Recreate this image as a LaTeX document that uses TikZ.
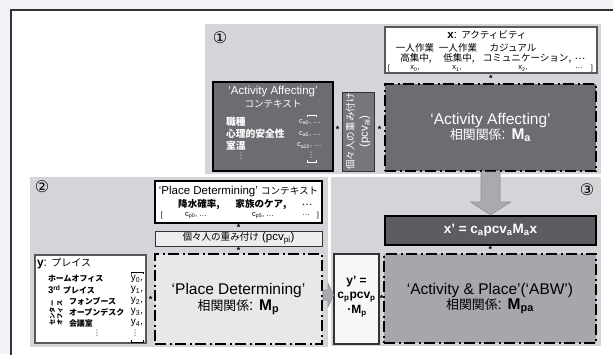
\documentclass[tikz,border=0pt]{standalone}
\usepackage{fontspec}
\setmainfont{Liberation Sans}
\newfontfamily\jpf{Noto Sans CJK JP}[Scale=0.83]
\newfontfamily\dvf{DejaVu Sans}
\usetikzlibrary{calc}
\newcommand\jt[1]{{\jpf #1}}
\newcommand\sbs[1]{\textsubscript{#1}}
\newcommand\vdt{{\dvf ⋮}}
\definecolor{outerbg}{HTML}{F2F3F7}
\definecolor{framec}{HTML}{333333}
\definecolor{panelc}{HTML}{D4D5D8}
\definecolor{darkc}{HTML}{6C6D72}
\definecolor{vboxc}{HTML}{76777C}
\definecolor{xpc}{HTML}{5C5D62}
\definecolor{abwc}{HTML}{A6A7AA}
\definecolor{pdc}{HTML}{E8E8E9}
\definecolor{pcvc}{HTML}{EDEDEE}
\definecolor{ypc}{HTML}{F7F7F7}
\definecolor{boxgray}{HTML}{58595C}
\definecolor{arrowc}{HTML}{A9AAAD}
\definecolor{arrowd}{HTML}{8F9094}
\begin{document}
\begin{tikzpicture}[x=1pt,y=-1pt,
  panel/.style={fill=panelc, inner sep=0pt, outer sep=0pt},
  bx/.style={inner sep=0pt, outer sep=0pt},
  dd/.style={draw=black, line width=2.2pt, dash pattern=on 11pt off 3.5pt on 2pt off 3.5pt},
  t/.style={inner sep=0pt, outer sep=0pt},
  big/.style={font=\fontsize{15.5}{15.5}\selectfont, align=center},
  mid/.style={font=\fontsize{11.5}{12}\selectfont},
  midb/.style={font=\fontsize{11.5}{12}\selectfont\bfseries},
  lst/.style={font=\fontsize{9.6}{10}\selectfont\bfseries},
  sm/.style={font=\fontsize{7.5}{8}\selectfont},
  wt/.style={text=white},
  starl/.style={font=\fontsize{9}{9}\selectfont\bfseries, inner sep=0pt},
  num/.style={font=\dvf\fontsize{16}{16}\selectfont, inner sep=0pt},
  barr/.style={fill=arrowc, draw=arrowd, line width=0.6pt}
]
\useasboundingbox (0,0) rectangle (613,354);
\clip (0,0) rectangle (613,354);
\fill[outerbg] (0,0) rectangle (613,354);
\draw[fill=white, draw=framec, line width=1.3pt] (11,10) rectangle (640,380);

% panels
\node[panel, minimum width=396pt, minimum height=150pt] (p1) at (403,99) {};
\node[panel, minimum width=298pt, minimum height=170pt] (p2) at (179,262) {};
\node[panel, minimum width=270pt, minimum height=169pt] (p3) at (466,261.5) {};
\node[num] (n1) at (220,38) {①};
\node[num] (n2) at (42,187) {②};
\node[num] (n3) at (587,190) {③};

% ---------- panel 1 ----------
\node[bx, fill=white, draw=boxgray, line width=2pt, minimum width=212pt, minimum height=46pt] (xbox) at (491,50) {};
\node[t, mid] (xtitle) at (487,35) {\textbf{x}: \jt{アクティビティ}};
\node[t, mid] (xa1) at (415,48) {\jt{一人作業}};
\node[t, mid] (xa2) at (458,48) {\jt{一人作業}};
\node[t, mid] (xa3) at (513,48) {\jt{カジュアル}};
\node[t, mid] (xb1) at (416,58.5) {\jt{高集中,}};
\node[t, mid] (xb2) at (459,58.5) {\jt{低集中,}};
\node[t, mid] (xb3) at (527,58.5) {\jt{コミュニケーション,}};
\node[t, mid] (xb4) at (580,58.5) {…};
\node[t, sm] (xc0) at (389,68.5) {[};
\node[t, sm] (xc1) at (415,68.5) {x\sbs{0},};
\node[t, sm] (xc2) at (457,68.5) {x\sbs{1},};
\node[t, sm] (xc3) at (523,68.5) {x\sbs{2},};
\node[t, sm] (xc4) at (579,68.5) {…};
\node[t, sm] (xc5) at (592,68.5) {]};

\node[bx, dd, fill=darkc, minimum width=211pt, minimum height=87pt, big, wt] (aacorr) at (490.5,127.5) {‘Activity Affecting’\\\jt{相関関係}: \textbf{M\sbs{a}}};

\node[bx, fill=vboxc, draw=framec, line width=0.8pt, minimum width=32pt, minimum height=79pt] (pcvai) at (358,131.5) {};
\node[t, wt, rotate=90, align=center, font=\fontsize{11.5}{14}\selectfont] (pcvait) at (pcvai) {\jt{個々人の重み付け}\\(pcv\sbs{ai})};

\node[bx, fill=darkc, draw=black, line width=2.4pt, minimum width=120pt, minimum height=89pt] (aactx) at (273,126.5) {};
\node[t, mid, wt] (aat1) at (273,92) {‘Activity Affecting’};
\node[t, mid, wt] (aat2) at (273,104) {\jt{コンテキスト}};
\node[t, wt, anchor=west, font=\fontsize{11.8}{12}\selectfont\bfseries] (aal1) at (226,122) {\jt{職種}};
\node[t, wt, anchor=west, font=\fontsize{11.8}{12}\selectfont\bfseries] (aal2) at (226,134) {\jt{心理的安全性}};
\node[t, wt, anchor=west, font=\fontsize{11.8}{12}\selectfont\bfseries] (aal3) at (226,145.5) {\jt{室温}};
\node[t, sm, wt] (aal4) at (241,156) {\vdt};
\node[t, sm, wt, anchor=west] (aar1) at (299,122) {c\sbs{a0}, …};
\node[t, sm, wt, anchor=west] (aar2) at (299,134) {c\sbs{a5}, …};
\node[t, sm, wt, anchor=west] (aar3) at (297,145.5) {c\sbs{a10}, …};
\node[t, sm, wt] (aar4) at (311,155) {\vdt};
\draw[white, line width=0.6pt] (307,117) -- (307,115) -- (316,115) -- (316,117);
\draw[white, line width=0.6pt] (307,160) -- (307,162) -- (316,162) -- (316,160);

\path (xbox.south) -- node[starl] {*} (aacorr.north);
\path (aactx.east) -- node[starl] {*} (pcvai.west);
\path (pcvai.east) -- node[starl] {*} (aacorr.west);

% ---------- panel 2 ----------
\node[bx, fill=white, draw=black, line width=2.2pt, minimum width=167pt, minimum height=42pt] (pdctx) at (238.5,202) {};
\node[t, mid] (pdt1) at (238.5,192) {‘Place Determining’ \jt{コンテキスト}};
\node[t, midb] (pdt2) at (199,204) {\jt{降水確率,}};
\node[t, midb] (pdt3) at (261,204) {\jt{家族のケア,}};
\node[t, mid] (pdt4) at (307,205) {…};
\node[t, sm] (pdc0) at (162,215.5) {[};
\node[t, sm] (pdc1) at (196,215.5) {c\sbs{p0}, …};
\node[t, sm] (pdc2) at (263,215.5) {c\sbs{p5}, …};
\node[t, sm] (pdc3) at (306,215.5) {…};
\node[t, sm] (pdc4) at (318,215.5) {]};

\node[bx, fill=pcvc, draw=framec, line width=0.8pt, minimum width=167pt, minimum height=15pt, mid] (pcvpi) at (238.5,238.5) {\jt{個々人の重み付け} (pcv\sbs{pi})};

\node[bx, dd, fill=pdc, minimum width=167pt, minimum height=90pt, big] (pdcorr) at (238.5,299) {‘Place Determining’\\\jt{相関関係}: \textbf{M\sbs{p}}};

\node[bx, fill=white, draw=boxgray, line width=2pt, minimum width=111pt, minimum height=88pt] (ybox) at (90.5,299) {};
\node[t, anchor=west, font=\fontsize{12}{12}\selectfont] (ytitle) at (37,264) {\textbf{y}: \jt{プレイス}};
\node[t, lst, anchor=west] (yl1) at (48,279) {\jt{ホームオフィス}};
\node[t, lst, anchor=west] (yl2) at (48,290) {3\textsuperscript{rd} \jt{プレイス}};
\node[t, lst, anchor=west] (yl3) at (69,301) {\jt{フォンブース}};
\node[t, lst, anchor=west] (yl4) at (69,312) {\jt{オープンデスク}};
\node[t, lst, anchor=west] (yl5) at (69,323) {\jt{会議室}};
\node[t, sm] (yl6) at (97,333) {\vdt};
\node[t, rotate=90, align=center, font=\fontsize{7.5}{7.5}\selectfont\bfseries] (ycen) at (56,313) {\jt{センター}\\\jt{オフィス}};
\node[t, font=\fontsize{10}{10}\selectfont] (yr0) at (137,279) {y\sbs{0},};
\node[t, font=\fontsize{10}{10}\selectfont] (yr1) at (137,290) {y\sbs{1},};
\node[t, font=\fontsize{10}{10}\selectfont] (yr2) at (137,301) {y\sbs{2},};
\node[t, font=\fontsize{10}{10}\selectfont] (yr3) at (137,312) {y\sbs{3},};
\node[t, font=\fontsize{10}{10}\selectfont] (yr4) at (137,323) {y\sbs{4},};
\node[t, sm] (yr5) at (135,333) {\vdt};
\draw[black, line width=0.6pt] (131,274) -- (131,272) -- (143,272) -- (143,274);
\draw[black, line width=0.6pt] (131,340) -- (131,342) -- (143,342) -- (143,340);

\path (pdctx.south) -- node[starl] {*} (pcvpi.north);
\path (pcvpi.south) -- node[starl] {*} (pdcorr.north);
\path (ybox.east) -- node[starl] {*} (pdcorr.west);

% ---------- panel 3 ----------
\node[bx, fill=xpc, draw=black, line width=1.2pt, minimum width=211pt, minimum height=29pt, wt, font=\fontsize{13.5}{14}\selectfont\bfseries] (xprime) at (490.5,230.5) {x’ = c\sbs{a}pcv\sbs{a}M\sbs{a}x};
\node[bx, dd, fill=abwc, minimum width=212pt, minimum height=89pt, big] (abw) at (490,298.5) {‘Activity \& Place’(‘ABW’)\\\jt{相関関係}: \textbf{M\sbs{pa}}};
\node[bx, fill=ypc, draw=framec, line width=1.2pt, minimum width=45pt, minimum height=90pt] (yprime) at (356.5,299) {};
\node[t, font=\fontsize{12}{12}\selectfont\bfseries] (yp1) at (356.5,282) {y’ =};
\node[t, font=\fontsize{12}{12}\selectfont\bfseries] (yp2) at (356.5,297) {c\sbs{p}pcv\sbs{p}};
\node[t, font=\fontsize{12}{12}\selectfont\bfseries] (yp3) at (357,311) {·M\sbs{p}};

\path (xprime.south) -- node[starl] {*} (abw.north);
\path (yprime.east) -- node[starl] {*} (abw.west);

% block arrows
\path[barr] let \p1=(aacorr.south), \p2=(xprime.north) in
  ({\x1-9.5pt},{\y1-1pt}) -- ({\x1-9.5pt},{\y2+14pt}) -- ({\x1-20pt},{\y2+14pt}) -- (\x1,{\y2+1pt})
  -- ({\x1+20pt},{\y2+14pt}) -- ({\x1+9.5pt},{\y2+14pt}) -- ({\x1+9.5pt},{\y1-1pt}) -- cycle;
\path[barr] let \p1=(pdcorr.east), \p2=(yprime.west) in
  ({\x1+1pt},{\y1+9pt}) -- ({\x2-6pt},{\y1+9pt}) -- ({\x2-6pt},{\y1+16pt}) -- ({\x2-0.5pt},{\y1+4pt})
  -- ({\x2-6pt},{\y1-8pt}) -- ({\x2-6pt},{\y1-1pt}) -- ({\x1+1pt},{\y1-1pt}) -- cycle;
\end{tikzpicture}
\end{document}
